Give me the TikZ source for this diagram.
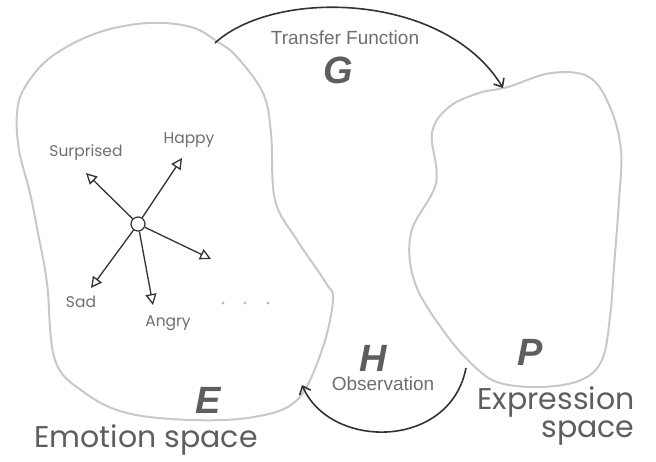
\documentclass[tikz,border=0pt]{standalone}
\usepackage{fontspec}
\setmainfont{Liberation Sans}
\newfontfamily\handfont{Poppins}
\usetikzlibrary{arrows.meta,positioning}
\definecolor{outline}{HTML}{C8C8C8}
\definecolor{labelgray}{HTML}{6E6E6E}
\definecolor{lettergray}{HTML}{5E5E5E}
\definecolor{inkgray}{HTML}{333333}

\begin{document}
\begin{tikzpicture}[x=1pt,y=-1pt,
  blob/.style={draw=outline,line width=2pt},
  mapping/.style={draw=inkgray,line width=1.6pt,-{Straight Barb[length=7pt,width=12pt]}},
  ray/.style={draw=inkgray,line width=1.3pt,-{Triangle[open,length=11pt,width=11pt]}},
  hand/.style={font=\handfont\fontsize{15.5}{17}\selectfont,text=labelgray,inner sep=0pt},
  handbig/.style={font=\handfont\fontsize{30}{32}\selectfont,text=lettergray,inner sep=0pt},
  caption/.style={font=\fontsize{19}{21}\selectfont,text=labelgray,inner sep=0pt},
  bigletter/.style={font=\bfseries\itshape\fontsize{38}{40}\selectfont,text=lettergray,inner sep=0pt}]
  \useasboundingbox (0,0) rectangle (656,462);

  % the two spaces
  \draw[blob] plot[smooth cycle,tension=0.6] coordinates {
    (218,42) (191,27) (148,23) (97,33) (51,57) (25,87) (17,113) (19,150)
    (30,193) (38,233) (47,283) (55,360) (85,393) (127,413) (191,420)
    (254,417) (297,400) (322,350) (333,300) (326,283) (297,240) (275,200)
    (271,133) (263,93) (237,57)};
  \draw[blob] plot[smooth cycle,tension=0.6] coordinates {
    (508,87) (551,73) (589,77) (610,107) (621,150) (619,200) (614,267)
    (610,317) (602,360) (581,380) (542,387) (500,383) (475,367) (445,333)
    (415,283) (411,233) (436,183) (432,133) (449,107) (479,93)};

  % emotion vectors
  \node[circle,draw=inkgray,line width=1.2pt,fill=white,minimum size=14pt,inner sep=0pt] (origin) at (138,224) {};
  \coordinate (tsur) at (86,173);
  \coordinate (thap) at (182,158);
  \coordinate (toth) at (211,259);
  \coordinate (tsad) at (91,288);
  \coordinate (tang) at (153,305);
  \foreach \t in {tsur,thap,toth,tsad,tang}
    \draw[ray] (origin) -- (\t);
  \node[hand] (surprised) at (86,153) {Surprised};
  \node[hand] (happy) at (189,140) {Happy};
  \node[hand] (sad) at (81,302) {Sad};
  \node[hand] (angry) at (168,323) {Angry};
  \foreach \x in {223,245,268}
    \fill[outline!80!gray] (\x,303) circle (1.6pt);

  % mappings
  \coordinate (gfrom) at (215,43);
  \coordinate (gto) at (503,88);
  \draw[mapping] (gfrom) .. controls (275,-12) and (445,-8) .. (gto);
  \node[caption] (transfer) at (345,38) {Transfer Function};
  \node[bigletter] (G) at (338,70) {G};

  \coordinate (hfrom) at (466,368);
  \coordinate (hto) at (302,385);
  \draw[mapping] (hfrom) .. controls (450,450) and (330,450) .. (hto);
  \node[bigletter] (H) at (373,358) {H};
  \node[caption] (observation) at (383,384) {Observation};

  % space names
  \node[bigletter] (P) at (530,352) {P};
  \node[bigletter] (E) at (208,400) {E};
  \node[handbig] (emotion) at (146,440) {Emotion space};
  \node[handbig] (expression) at (556,402) {Expression};
  \node[handbig,below=3pt of expression.south east,anchor=north east] (exspace) {space};
\end{tikzpicture}
\end{document}
